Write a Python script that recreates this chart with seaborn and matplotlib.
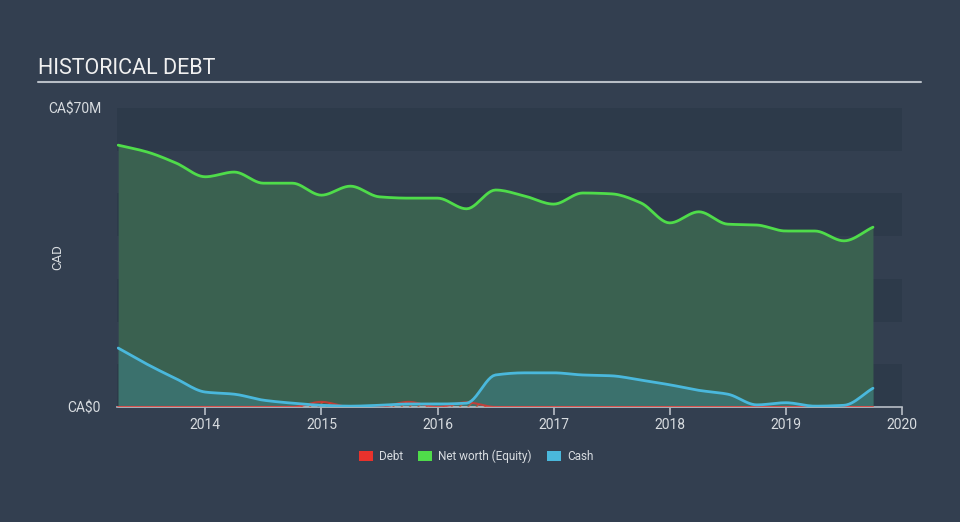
import matplotlib
matplotlib.use("Agg")
import matplotlib.pyplot as plt
from matplotlib.patches import Patch
import seaborn as sns
import pandas as pd
import numpy as np

# ---- data (CA$ millions, quarterly) ----
dates = [2013.25, 2013.5, 2013.75, 2014.0, 2014.25, 2014.5, 2014.75, 2015.0,
         2015.25, 2015.5, 2015.75, 2016.0, 2016.25, 2016.5, 2016.75, 2017.0,
         2017.25, 2017.5, 2017.75, 2018.0, 2018.25, 2018.5, 2018.75, 2019.0,
         2019.25, 2019.5, 2019.75]
equity = [61.3, 59.7, 57.1, 53.9, 55.0, 52.4, 52.4, 49.6,
          51.7, 49.2, 48.9, 48.9, 46.4, 50.8, 49.4, 47.5,
          50.1, 49.9, 47.8, 43.1, 45.7, 42.8, 42.6, 41.2,
          41.2, 38.9, 42.1]
cash = [13.8, 10.0, 6.6, 3.5, 3.0, 1.6, 0.9, 0.4,
        0.2, 0.4, 0.7, 0.7, 0.9, 7.5, 8.0, 8.0,
        7.5, 7.3, 6.3, 5.2, 3.9, 3.0, 0.5, 1.0,
        0.2, 0.4, 4.4]
debt = [0.0, 0.0, 0.0, 0.0, 0.0, 0.0, 0.0, 1.2,
        0.0, 0.0, 1.2, 0.0, 1.1, 0.0, 0.0, 0.0,
        0.0, 0.0, 0.0, 0.0, 0.0, 0.0, 0.0, 0.0,
        0.0, 0.0, 0.0]
year_ticks = [2014, 2015, 2016, 2017, 2018, 2019, 2020]
y_ticks = [0, 70]
y_tick_labels = ["CA$0", "CA$70M"]
legend_labels = ["Debt", "Net worth (Equity)", "Cash"]

df = pd.DataFrame({"date": dates, "equity": equity, "cash": cash, "debt": debt})


def smooth(x, y, n=12):
    """Monotone cubic (Fritsch-Carlson) rendering curve through the data points."""
    x = np.asarray(x, float)
    y = np.asarray(y, float)
    h = np.diff(x)
    d = np.diff(y) / h
    m = np.zeros_like(y)
    m[0], m[-1] = d[0], d[-1]
    for i in range(1, len(y) - 1):
        if d[i - 1] * d[i] <= 0:
            m[i] = 0.0
        else:
            w1 = 2 * h[i] + h[i - 1]
            w2 = h[i] + 2 * h[i - 1]
            m[i] = (w1 + w2) / (w1 / d[i - 1] + w2 / d[i])
    xs, ys = [], []
    for i in range(len(x) - 1):
        t = np.linspace(0, 1, n, endpoint=False)
        h00 = 2 * t**3 - 3 * t**2 + 1
        h10 = t**3 - 2 * t**2 + t
        h01 = -2 * t**3 + 3 * t**2
        h11 = t**3 - t**2
        xs.append(x[i] + t * h[i])
        ys.append(h00 * y[i] + h10 * h[i] * m[i] + h01 * y[i + 1] + h11 * h[i] * m[i + 1])
    xs.append([x[-1]])
    ys.append([y[-1]])
    return np.concatenate(xs), np.concatenate(ys)


BG = "#333f50"
BAND_DARK = "#2d3a4a"
TXT = "#d8dce0"
GREEN = "#4fdc4a"
BLUE = "#4ab8dc"
RED = "#e8322c"

sns.set_theme(style="dark")
plt.rcParams["font.family"] = ["Roboto", "DejaVu Sans"]
plt.rcParams["hatch.linewidth"] = 1.0

fig = plt.figure(figsize=(9.6, 5.22), dpi=100, facecolor=BG)
ax = fig.add_axes([117 / 960, 1 - 407 / 522, (902 - 117) / 960, (407 - 108) / 522])
ax.set_facecolor(BG)

x0, x1 = 2013.24, 2020.0
ax.set_xlim(x0, x1)
ax.set_ylim(0, 70)

# alternating bands
for i in range(7):
    if i % 2 == 0:
        ax.axhspan(60 - i * 10, 70 - i * 10, color=BAND_DARK, zorder=0, lw=0)

ex, ey = smooth(df["date"], df["equity"])
cx, cy = smooth(df["date"], df["cash"])
dx, dy = smooth(df["date"], df["debt"])
sm = pd.DataFrame({"x": ex, "equity": ey, "cash": np.clip(cy, 0, None),
                   "debt": np.clip(dy, 0, None)})

# fills
ax.fill_between(sm["x"], sm["equity"], 0, color="#3a6150", lw=0, zorder=1)
ax.fill_between(sm["x"], sm["cash"], 0, color="#3b716d", lw=0, zorder=2)
ax.fill_between(sm["x"], sm["debt"], 0, facecolor="none", edgecolor="#c8553a", hatch="////",
                alpha=0.8, lw=0, zorder=3)

sns.lineplot(data=sm, x="x", y="debt", ax=ax, color=RED, lw=1.5, alpha=0.75, zorder=3, sort=False)
sns.lineplot(data=sm, x="x", y="equity", ax=ax, color=GREEN, lw=2, zorder=4, sort=False)
sns.lineplot(data=sm, x="x", y="cash", ax=ax, color=BLUE, lw=2, zorder=4, sort=False)

# axes styling
for s in ["top", "right", "left"]:
    ax.spines[s].set_visible(False)
ax.spines["bottom"].set_color("#b8bec6")
ax.spines["bottom"].set_linewidth(1.2)
ax.spines["bottom"].set_zorder(2.5)
ax.set_xticks(year_ticks)
ax.set_xticklabels([str(y) for y in year_ticks])
ax.set_yticks(y_ticks)
ax.set_yticklabels(y_tick_labels)
ax.tick_params(axis="x", colors="#b8bec6", labelcolor=TXT, length=6, width=1.2,
               direction="out", labelsize=10, pad=2, bottom=True)
ax.tick_params(axis="y", length=0, labelcolor=TXT, labelsize=10, pad=11.5)
ax.set_xlabel("")
ax.set_ylabel("CAD", color=TXT, fontsize=9.5)
ax.yaxis.set_label_coords(-(117 - 58) / 785, 0.5)
ax.yaxis.label.set_va("center")
ax.grid(False)

# title and rule
fig.text(38 / 960, 1 - 69 / 522, "HISTORICAL DEBT", color="#f0f0f0", fontsize=15.5,
         ha="left", va="center")
fig.add_artist(plt.Line2D([38 / 960, 921 / 960], [1 - 82 / 522, 1 - 82 / 522],
                          color="#b8bec6", lw=1.5, transform=fig.transFigure))

# legend
handles = [Patch(facecolor=RED, edgecolor="none"),
           Patch(facecolor=GREEN, edgecolor="none"),
           Patch(facecolor=BLUE, edgecolor="none")]
leg = fig.legend(handles, legend_labels, loc="center", ncol=3,
                 bbox_to_anchor=(476 / 960, 1 - 456 / 522), frameon=False,
                 fontsize=8.5, handlelength=1.2, handleheight=0.9, handletextpad=0.5,
                 columnspacing=1.3)
for t in leg.get_texts():
    t.set_color(TXT)

fig.savefig("out.png", dpi=100, facecolor=BG)
